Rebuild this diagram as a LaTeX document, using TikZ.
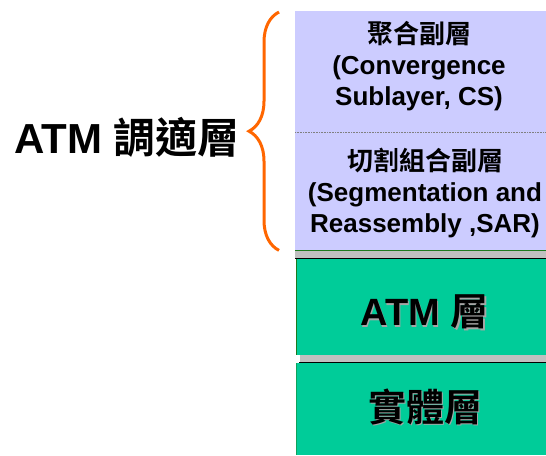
\documentclass[tikz,border=0pt]{standalone}
\usepackage{fontspec}
\setmainfont{Liberation Sans}
\newfontfamily\cjk{Noto Sans CJK TC}[BoldFont={* Bold}]
\usetikzlibrary{positioning,decorations.pathreplacing}
\definecolor{lavender}{HTML}{CCCCFF}
\definecolor{layergreen}{HTML}{00CC99}
\definecolor{braceorange}{HTML}{FF6600}
\definecolor{bargray}{HTML}{C0C0C0}
\definecolor{edgegreen}{HTML}{1E7A1E}
\tikzset{
  sublayer/.style={fill=lavender, minimum width=251pt, inner sep=0pt, anchor=north west},
  layer/.style={fill=layergreen, minimum width=251pt, inner sep=0pt, anchor=north west},
  sublabel/.style={align=center, font=\fontsize{26}{31}\selectfont\bfseries},
  layerlabel/.style={font=\fontsize{38}{42}\selectfont\bfseries},
  layershadow/.style={layerlabel, text=gray!70},
  bigbrace/.style={braceorange, line width=3pt, decorate, decoration={brace, amplitude=30pt}},
}
\begin{document}
\begin{tikzpicture}[x=1pt,y=-1pt]
  \useasboundingbox (0,0) rectangle (546,455);
  % AAL sublayers
  \node[sublayer, minimum height=121pt] (cs) at (295,11) {};
  \node[sublayer, minimum height=118pt] (sar) at (295,132) {};
  \draw[gray, densely dotted, line width=0.6pt] (cs.south west) -- (cs.south east);
  \node[sublabel] (cstext) at (419,66) {{\cjk 聚合副層}\\(Convergence\\Sublayer, CS)};
  \node[sublabel] (sartext) at (425,193) {{\cjk 切割組合副層}\\(Segmentation and\\Reassembly ,SAR)};
  % separators and lower layers
  \fill[bargray] (295,251) rectangle (546,258);
  \draw[edgegreen, line width=0.8pt] (295,250.5) -- (546,250.5);
  \draw[line width=0.8pt] (295,258.5) -- (546,258.5);
  \node[layer, minimum height=96pt] (atm) at (296,259) {};
  \fill[bargray] (300,355) rectangle (546,362);
  \draw[line width=0.8pt] (299,362.5) -- (546,362.5);
  \node[layer, minimum height=92pt] (phy) at (296,363) {};
  \draw[edgegreen, line width=0.8pt] (atm.north west) -- (atm.south west);
  \draw[edgegreen!50!layergreen, line width=0.8pt] (phy.north west) -- (phy.south west);
  \node[layershadow] at (426,313.5) {ATM \cjk 層};
  \node[layerlabel] (atmtext) at (424.5,312) {ATM \cjk 層};
  \node[layershadow] at (426.5,408.5) {\cjk 實體層};
  \node[layerlabel] (phytext) at (425,407) {\cjk 實體層};
  % brace and AAL label
  \path (cs.north west) ++(-16,1) coordinate (bracetop)
    (sar.south west) ++(-16,0) coordinate (bracebot);
  \draw[bigbrace] (bracebot) -- (bracetop);
  \node[font=\fontsize{42}{46}\selectfont\bfseries] (aal) at (127,137) {ATM \cjk 調適層};
\end{tikzpicture}
\end{document}
